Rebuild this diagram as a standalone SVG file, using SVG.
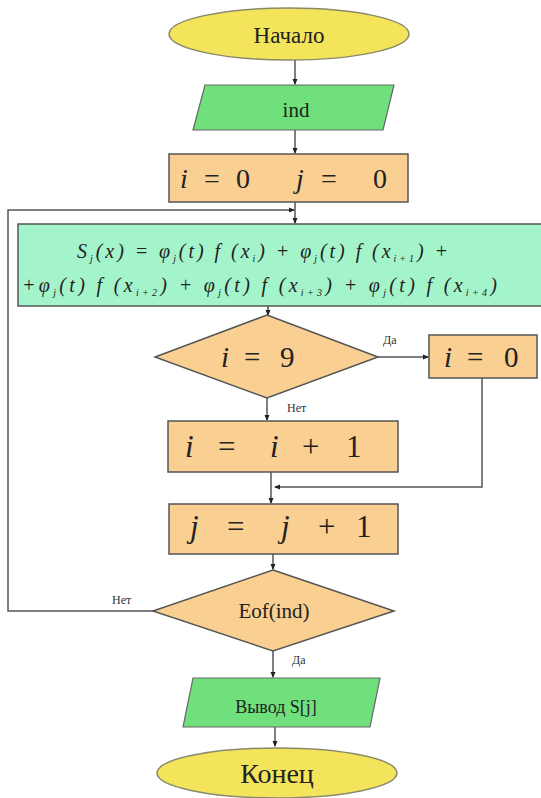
<svg xmlns="http://www.w3.org/2000/svg" width="541" height="798" viewBox="0 0 541 798">
<style>
.term{fill:#f3e45c;stroke:#8a8a6a;stroke-width:1.5}
.io{fill:#6fe07c;stroke:#666;stroke-width:1.2}
.proc{fill:#f9cf92;stroke:#555;stroke-width:1.5}
.formula{fill:#a3f4cb;stroke:#555;stroke-width:1.5}
text{font-family:'Liberation Serif','Times New Roman',Times,serif;fill:#222}
.it{font-style:italic}
.lbl{font-size:12px;fill:#333}
.c{fill:none;stroke:#555;stroke-width:1.5}
</style>
<defs>
<marker id="ah" markerWidth="6" markerHeight="6" refX="5" refY="3" orient="auto" markerUnits="userSpaceOnUse">
<path d="M0,0.5 L6,3 L0,5.5 Z" fill="#222"/>
</marker>
</defs>
<rect width="541" height="798" fill="#fff"/>
<g id="connectors">
<path class="c" d="M295,60 V84" marker-end="url(#ah)"/>
<path class="c" d="M295,130 V153" marker-end="url(#ah)"/>
<path class="c" d="M295,202 V223" marker-end="url(#ah)"/>
<path class="c" d="M154,611 H8 V210 H294" marker-end="url(#ah)"/>
<path class="c" d="M268,306 V315" marker-end="url(#ah)"/>
<path class="c" d="M378,357 H428" marker-end="url(#ah)"/>
<path class="c" d="M267,398 V420" marker-end="url(#ah)"/>
<path class="c" d="M482,378 V487 H275" marker-end="url(#ah)"/>
<path class="c" d="M271,472 V503" marker-end="url(#ah)"/>
<path class="c" d="M273,554 V569" marker-end="url(#ah)"/>
<path class="c" d="M273,650 V677" marker-end="url(#ah)"/>
<path class="c" d="M275,727 V746" marker-end="url(#ah)"/>
<text class="lbl" font-family="Liberation Serif, serif" x="383" y="344">Да</text>
<text class="lbl" font-family="Liberation Serif, serif" x="287" y="412">Нет</text>
<text class="lbl" font-family="Liberation Serif, serif" x="112" y="604">Нет</text>
<text class="lbl" font-family="Liberation Serif, serif" x="292" y="664">Да</text>
</g>
<g id="start">
<ellipse class="term" cx="289" cy="34" rx="120" ry="26"/>
<text font-family="Liberation Serif, serif" x="289" y="43" font-size="23" text-anchor="middle">Начало</text>
</g>
<g id="input">
<polygon class="io" points="205,85 394,85 383,130 193,130"/>
<text font-family="Liberation Serif, serif" x="296" y="117" font-size="21" text-anchor="middle">ind</text>
</g>
<g id="init">
<rect class="proc" x="169" y="154" width="239" height="48"/>
<text font-family="Liberation Serif, serif" y="188" font-size="28"><tspan class="it" x="180">i</tspan><tspan x="204">=</tspan><tspan x="236">0</tspan><tspan class="it" x="296">j</tspan><tspan x="321">=</tspan><tspan x="373">0</tspan></text>
</g>
<g id="formula">
<rect class="formula" x="18" y="224" width="530" height="82"/>
<text class="it" font-family="Liberation Serif, serif" x="77" y="258" font-size="20" textLength="371" lengthAdjust="spacing">S<tspan font-size="10" dy="4">j</tspan><tspan dy="-4">(x) = φ</tspan><tspan font-size="10" dy="4">j</tspan><tspan dy="-4">(t) f (x</tspan><tspan font-size="10" dy="4">i</tspan><tspan dy="-4">) + φ</tspan><tspan font-size="10" dy="4">j</tspan><tspan dy="-4">(t) f (x</tspan><tspan font-size="10" dy="4">i+1</tspan><tspan dy="-4">) +</tspan></text>
<text class="it" font-family="Liberation Serif, serif" x="22" y="292" font-size="20" textLength="475" lengthAdjust="spacing">+φ<tspan font-size="10" dy="4">j</tspan><tspan dy="-4">(t) f (x</tspan><tspan font-size="10" dy="4">i+2</tspan><tspan dy="-4">) + φ</tspan><tspan font-size="10" dy="4">j</tspan><tspan dy="-4">(t) f (x</tspan><tspan font-size="10" dy="4">i+3</tspan><tspan dy="-4">) + φ</tspan><tspan font-size="10" dy="4">j</tspan><tspan dy="-4">(t) f (x</tspan><tspan font-size="10" dy="4">i+4</tspan><tspan dy="-4">)</tspan></text>
</g>
<g id="check-i">
<polygon class="proc" points="267,315 378,357 267,398 155,357"/>
<text font-family="Liberation Serif, serif" y="367" font-size="29"><tspan class="it" x="221">i</tspan><tspan x="244">=</tspan><tspan x="280">9</tspan></text>
</g>
<g id="reset-i">
<rect class="proc" x="429" y="335" width="108" height="43"/>
<text font-family="Liberation Serif, serif" y="367" font-size="29"><tspan class="it" x="444">i</tspan><tspan x="467">=</tspan><tspan x="504">0</tspan></text>
</g>
<g id="inc-i">
<rect class="proc" x="168" y="421" width="230" height="51"/>
<text font-family="Liberation Serif, serif" y="457" font-size="31"><tspan class="it" x="185">i</tspan><tspan x="218">=</tspan><tspan class="it" x="270">i</tspan><tspan x="302">+</tspan><tspan x="346">1</tspan></text>
</g>
<g id="inc-j">
<rect class="proc" x="169" y="504" width="229" height="50"/>
<text font-family="Liberation Serif, serif" y="537" font-size="31"><tspan class="it" x="190">j</tspan><tspan x="227">=</tspan><tspan class="it" x="281">j</tspan><tspan x="318">+</tspan><tspan x="356">1</tspan></text>
</g>
<g id="check-eof">
<polygon class="proc" points="273,570 394,611 273,651 153,611"/>
<text font-family="Liberation Serif, serif" x="274" y="618" font-size="21" text-anchor="middle">Eof(ind)</text>
</g>
<g id="output">
<polygon class="io" points="193,678 380,678 370,727 183,727"/>
<text font-family="Liberation Serif, serif" x="276" y="713" font-size="18" text-anchor="middle">Вывод S[j]</text>
</g>
<g id="end">
<ellipse class="term" cx="277" cy="773" rx="120" ry="25"/>
<text font-family="Liberation Serif, serif" x="277" y="783" font-size="28" text-anchor="middle">Конец</text>
</g>
</svg>
